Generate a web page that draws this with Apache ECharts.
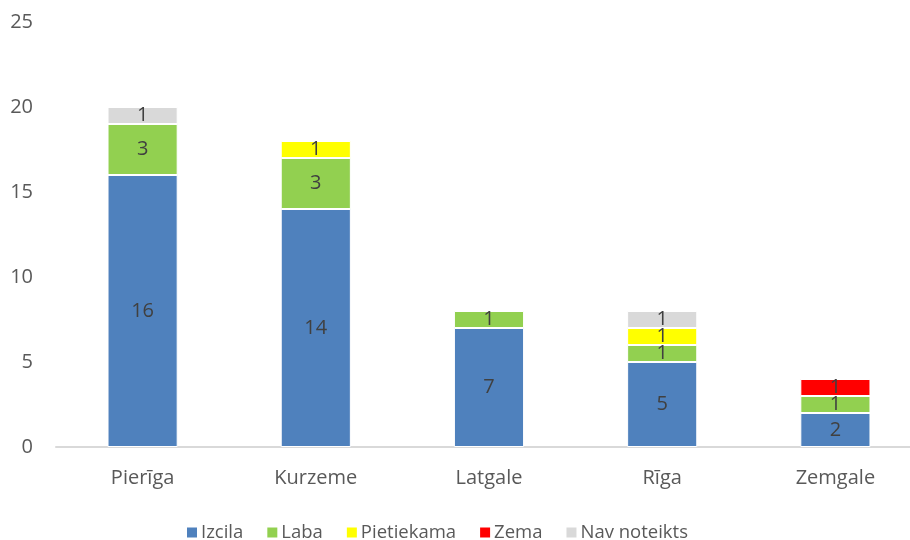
<!DOCTYPE html>
<html><head><meta charset="utf-8">
<script src="https://cdn.jsdelivr.net/npm/echarts@6/dist/echarts.min.js"></script>
<style>html,body{margin:0;padding:0;background:#fff}#c{width:910px;height:540px}</style>
</head><body><div id="c"></div>
<script>
const categories = ['Pierīga', 'Kurzeme', 'Latgale', 'Rīga', 'Zemgale'];
const izcila = [16, 14, 7, 5, 2];
const laba = [3, 3, 1, 1, 1];
const pietiekama = [null, 1, null, 1, null];
const zema = [null, null, null, null, 1];
const navNoteikts = [1, null, null, 1, null];
const seriesNames = ['Izcila', 'Laba', 'Pietiekama', 'Zema', 'Nav noteikts'];
const yTicks = [0, 5, 10, 15, 20, 25];

const colors = ['#4F81BD', '#92D050', '#FFFF00', '#FF0000', '#D9D9D9'];
const FONT = '"Open Sans", "Liberation Sans", sans-serif';
const dataSets = [izcila, laba, pietiekama, zema, navNoteikts];

const chart = echarts.init(document.getElementById('c'), null, {renderer: 'canvas'});
chart.setOption({
  animation: false,
  textStyle: {fontFamily: FONT},
  grid: {left: 56, width: 866, top: 22, bottom: 93, containLabel: false, outerBoundsMode: 'none'},
  legend: {
    top: 518, left: 180, itemWidth: 12, itemHeight: 12, itemGap: 22,
    icon: 'rect',
    textStyle: {fontSize: 18.5, color: '#595959', fontFamily: FONT, padding: [0, 0, 0, -2]},
    data: seriesNames
  },
  xAxis: {
    type: 'category', data: categories,
    axisLine: {lineStyle: {color: '#D9D9D9', width: 2}},
    axisTick: {show: false},
    axisLabel: {fontSize: 20, color: '#595959', margin: 21, fontFamily: FONT}
  },
  yAxis: {
    type: 'value', min: yTicks[0], max: yTicks[yTicks.length - 1], interval: 5,
    splitLine: {show: false},
    axisLine: {show: false}, axisTick: {show: false},
    axisLabel: {fontSize: 20, color: '#595959', margin: 23, align: 'right', fontFamily: FONT,
      formatter: v => yTicks.includes(v) ? String(v) : ''},
  },
  series: seriesNames.map((n, i) => ({
    name: n, type: 'bar', stack: 'total', data: dataSets[i], barWidth: '40.5%',
    itemStyle: {color: colors[i], borderColor: '#ffffff', borderWidth: 1},
    label: {show: true, position: 'inside', fontSize: 20, color: '#404040', fontFamily: FONT,
      formatter: p => p.value == null ? '' : String(p.value)}
  }))
});
</script></body></html>
